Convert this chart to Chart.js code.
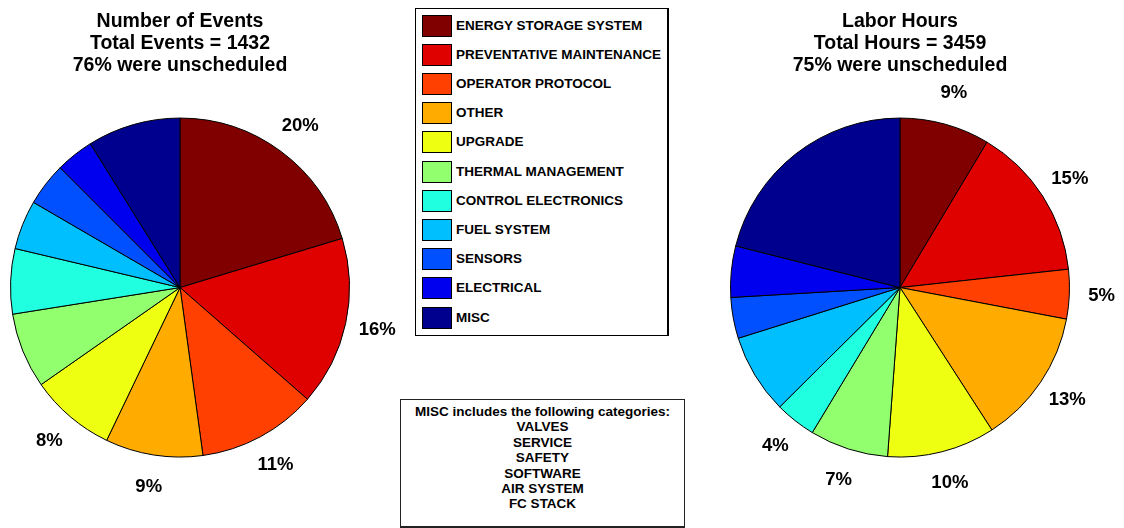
<!DOCTYPE html>
<html>
<head>
<meta charset="utf-8">
<script src="https://cdn.jsdelivr.net/npm/chart.js@4.4.0/dist/chart.umd.min.js"></script>
<style>
    body { margin: 0; background: #fff; font-family: "Liberation Sans", Arial, sans-serif; }
    #page { position: relative; width: 1124px; height: 528px; overflow: hidden; }
    .pie { position: absolute; top: 0; }
    #legend { position: absolute; left: 415px; top: 8px; width: 251px; height: 326px; border: 1px solid #000; border-right-width: 2px; background: #fff; }
    .row { position: absolute; left: 6px; height: 22px; }
    .swatch { position: absolute; left: 0; top: 0; width: 28px; height: 20px; border: 1px solid #000; }
    .lbl { position: absolute; left: 34px; top: 0; line-height: 22px; white-space: nowrap; font-weight: bold; font-size: 13.5px; color: #000; }
    #misc { position: absolute; left: 400px; top: 399px; width: 283px; height: 122px; border: 1px solid #222; border-bottom-width: 2px; text-align: center; font-weight: bold; font-size: 13.5px; line-height: 15.4px; padding-top: 4px; background: #fff; }
</style>
</head>
<body>
<div id="page">
    <canvas id="eventsChart" class="pie" width="400" height="528" style="left:0px"></canvas>
    <canvas id="hoursChart" class="pie" width="444" height="528" style="left:680px"></canvas>
    <div id="legend"></div>
    <div id="misc"></div>
</div>
<script>
var categories = [
    "ENERGY STORAGE SYSTEM",
    "PREVENTATIVE MAINTENANCE",
    "OPERATOR PROTOCOL",
    "OTHER",
    "UPGRADE",
    "THERMAL MANAGEMENT",
    "CONTROL ELECTRONICS",
    "FUEL SYSTEM",
    "SENSORS",
    "ELECTRICAL",
    "MISC"
];

// number of events per category (total 1432)
var eventCounts = [291, 231, 163, 133, 117, 103, 89, 67, 59, 52, 127];
var eventPctLabels = ["20%", "16%", "11%", "9%", "8%", "", "", "", "", "", ""];

// labor hours per category (total 3459)
var laborHours = [297, 508, 163, 446, 356, 259, 135, 263, 135, 169, 728];
var hoursPctLabels = ["9%", "15%", "5%", "13%", "10%", "7%", "4%", "", "", "", ""];

var eventsTitle = ["Number of Events", "Total Events = 1432", "76% were unscheduled"];
var hoursTitle = ["Labor Hours", "Total Hours = 3459", "75% were unscheduled"];

var miscCategories = ["VALVES", "SERVICE", "SAFETY", "SOFTWARE", "AIR SYSTEM", "FC STACK"];

var sliceColors = [
    "#800000", "#df0000", "#ff4000", "#ffab00", "#eeff12", "#91ff6e",
    "#20ffdf", "#00bfff", "#0050ff", "#0000ee", "#00008f"
];

var fontFamily = '"Liberation Sans", Arial, sans-serif';

// draws the percentage text outside the pie, at the middle of each slice
var outerLabels = {
    id: "outerLabels",
    afterDatasetsDraw: function (chart, args, opts) {
        var ctx = chart.ctx;
        var texts = opts.texts || [];
        var meta = chart.getDatasetMeta(0);
        ctx.save();
        ctx.font = "bold 18.5px " + fontFamily;
        ctx.fillStyle = "#000";
        ctx.textAlign = "center";
        ctx.textBaseline = "middle";
        meta.data.forEach(function (arc, i) {
            if (!texts[i]) return;
            var p = arc.getProps(["x", "y", "startAngle", "endAngle", "outerRadius"], true);
            var mid = (p.startAngle + p.endAngle) / 2;
            var r = p.outerRadius * 1.19;
            ctx.fillText(texts[i], p.x + Math.cos(mid) * r, p.y + Math.sin(mid) * r);
        });
        ctx.restore();
    }
};

function makePie(id, values, title, texts, padLeft, padRight) {
    return new Chart(document.getElementById(id).getContext("2d"), {
        type: "pie",
        data: {
            labels: categories,
            datasets: [{
                data: values,
                backgroundColor: sliceColors,
                borderColor: "#000",
                borderWidth: 1,
                hoverOffset: 0
            }]
        },
        options: {
            responsive: false,
            animation: false,
            layout: { padding: { top: 0, bottom: 70, left: padLeft, right: padRight } },
            plugins: {
                legend: { display: false },
                tooltip: { enabled: false },
                title: {
                    display: true,
                    fullSize: false,
                    text: title,
                    color: "#000",
                    font: { family: fontFamily, size: 19.5, weight: "bold", lineHeight: 1.13 },
                    padding: { top: 10.5, bottom: 40.5 }
                },
                outerLabels: { texts: texts }
            }
        },
        plugins: [outerLabels]
    });
}

makePie("eventsChart", eventCounts, eventsTitle, eventPctLabels, 10, 50);
makePie("hoursChart", laborHours, hoursTitle, hoursPctLabels, 50, 54);

// shared legend box
var legend = document.getElementById("legend");
categories.forEach(function (name, i) {
    var row = document.createElement("div");
    row.className = "row";
    row.style.top = (5.5 + i * 29.2) + "px";
    row.innerHTML = '<div class="swatch" style="background:' + sliceColors[i] + '"></div>' +
        '<div class="lbl">' + name + '</div>';
    legend.appendChild(row);
});

var misc = document.getElementById("misc");
misc.innerHTML = ["MISC includes the following categories:"].concat(miscCategories).join("<br>");
</script>
</body>
</html>
